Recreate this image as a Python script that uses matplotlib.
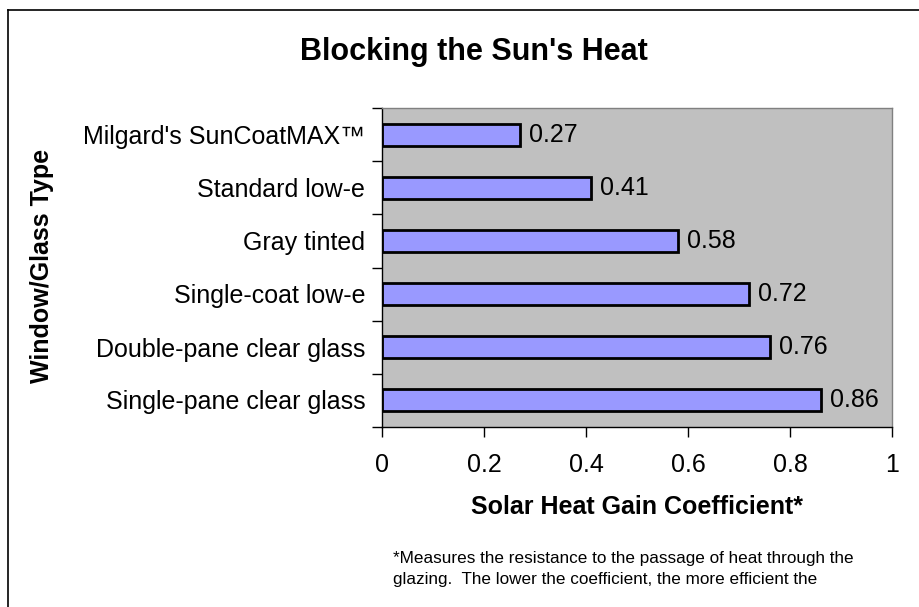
import matplotlib
matplotlib.use("Agg")
import matplotlib.pyplot as plt
from matplotlib.lines import Line2D

plt.rcParams["font.family"] = ["Liberation Sans", "DejaVu Sans"]

glass_types = ["Milgard's SunCoatMAX\u2122", "Standard low-e", "Gray tinted",
               "Single-coat low-e", "Double-pane clear glass", "Single-pane clear glass"]
shgc = [0.27, 0.41, 0.58, 0.72, 0.76, 0.86]
x_ticks = [0, 0.2, 0.4, 0.6, 0.8, 1]
x_tick_labels = ["0", "0.2", "0.4", "0.6", "0.8", "1"]

fig = plt.figure(figsize=(9.2, 6.07), dpi=100)
ax = fig.add_axes([382 / 920, 180.5 / 607, 510 / 920, 318 / 607])
ax.set_facecolor("#C0C0C0")

pos = list(range(len(glass_types)))
ax.barh(pos, shgc, height=0.42, color="#9999FF", edgecolor="black", linewidth=2)
for p, v in zip(pos, shgc):
    ax.text(v + 0.018, p, "%.2f" % v, va="center", ha="left", fontsize=18)

ax.set_xlim(0, 1)
ax.set_ylim(len(glass_types) - 0.5, -0.5)
ax.set_xticks(x_ticks)
ax.set_xticklabels(x_tick_labels, fontsize=18)
ax.set_yticks(pos)
ax.set_yticklabels(glass_types, fontsize=18)
ax.tick_params(axis="y", length=0, pad=12)
ax.tick_params(axis="x", length=7, width=1, direction="out", pad=12)
# Excel style ticks between categories
ax.set_yticks([i - 0.5 for i in range(len(glass_types) + 1)], minor=True)
ax.tick_params(axis="y", which="minor", length=7, width=1, direction="out")

for s in ["top", "right"]:
    ax.spines[s].set_color("#808080")
    ax.spines[s].set_linewidth(1)
for s in ["bottom", "left"]:
    ax.spines[s].set_color("black")
    ax.spines[s].set_linewidth(1)

fig.text(637 / 920, 1 - 507 / 607, "Solar Heat Gain Coefficient*", fontsize=18,
         fontweight="bold", ha="center", va="center")
fig.text(42 / 920, 1 - 266 / 607, "Window/Glass Type", rotation=90, fontsize=18,
         fontweight="bold", ha="center", va="center")
fig.text(474 / 920, 1 - 52 / 607, "Blocking the Sun's Heat", fontsize=22,
         fontweight="bold", ha="center", va="center")
fig.text(393 / 920, 1 - 569 / 607,
         "*Measures the resistance to the passage of heat through the\n"
         "glazing.  The lower the coefficient, the more efficient the",
         fontsize=12.3, ha="left", va="center", linespacing=1.45)

# chart border
fig.add_artist(Line2D([8 / 920, 1], [1 - 10 / 607, 1 - 10 / 607], color="black", linewidth=1.2))
fig.add_artist(Line2D([8 / 920, 8 / 920], [0, 1 - 10 / 607], color="black", linewidth=1.2))

fig.savefig("out.png", dpi=100)
